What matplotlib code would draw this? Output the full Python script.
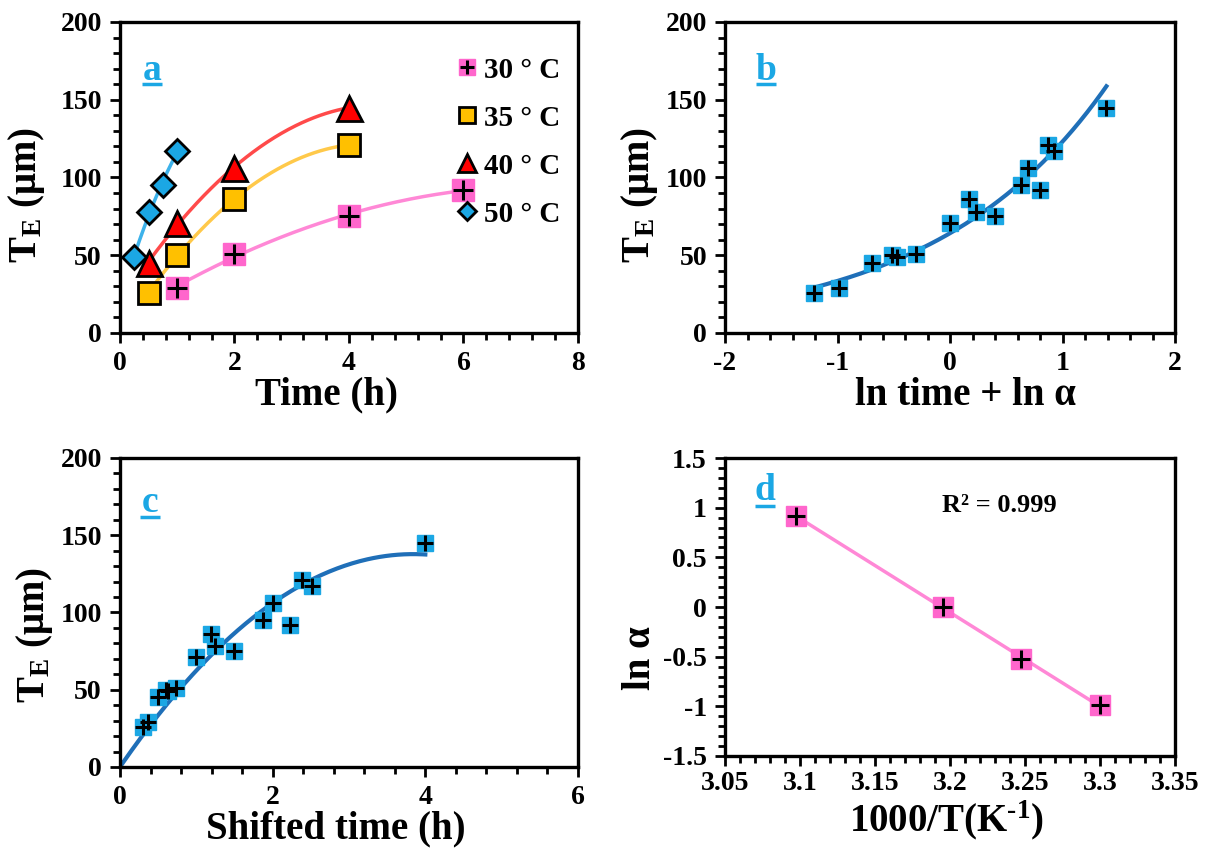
# -*- coding: utf-8 -*-
"""
Four panel T_E growth figure (a-d)
"""

import numpy as np
import matplotlib
matplotlib.use("Agg")
import matplotlib.pyplot as plt
from matplotlib.ticker import MultipleLocator, FuncFormatter
from matplotlib.legend_handler import HandlerTuple

plt.rcParams['font.family'] = ['Liberation Serif', 'DejaVu Serif']
plt.rcParams['font.weight'] = 'bold'
plt.rcParams['axes.unicode_minus'] = False
plt.rcParams['mathtext.fontset'] = 'custom'
plt.rcParams['mathtext.rm'] = 'Liberation Serif:bold'
plt.rcParams['mathtext.it'] = 'Liberation Serif:italic:bold'
plt.rcParams['mathtext.bf'] = 'Liberation Serif:bold'

# ---- data -------------------------------------------------------------
# panel a : time (h) vs T_E (um) per temperature
t30 = [1, 2, 4, 6]
te30 = [29, 51, 75, 92]
t35 = [0.5, 1, 2, 4]
te35 = [26, 50, 86, 121]
t40 = [0.5, 1, 2, 4]
te40 = [45, 71, 106, 145]
t50 = [0.25, 0.5, 0.75, 1]
te50 = [49, 78, 95, 117]

# panel b : ln time + ln alpha
lnx_b = [-0.99, -0.30, 0.40, 0.80,
         -1.21, -0.52, 0.17, 0.87,
         -0.69, 0.00, 0.69, 1.39,
         -0.47, 0.23, 0.63, 0.92]
# panel c : shifted time (h)
shift_c = [0.37, 0.74, 1.49, 2.23,
           0.30, 0.60, 1.19, 2.38,
           0.50, 1.00, 2.00, 4.00,
           0.63, 1.25, 1.88, 2.51]
te_all = te30 + te35 + te40 + te50

# panel d : 1000/T vs ln alpha
invT = [3.097, 3.195, 3.247, 3.300]
ln_alpha = [0.92, 0.00, -0.52, -0.99]

# colours
pink = '#ff66cc'
pink_line = '#ff88d6'
orange = '#ffc000'
orange_line = '#ffc94a'
red = '#ff0000'
red_line = '#ff4a4a'
cyan = '#1ba7e4'
cyan_line = '#3db2ea'
dark_blue = '#1f6fb8'

fig = plt.figure(figsize=(12.13, 8.52), dpi=100)
axA = fig.add_axes([0.0989, 0.6092, 0.3776, 0.365])
axB = fig.add_axes([0.5977, 0.6092, 0.3710, 0.365])
axC = fig.add_axes([0.0989, 0.0998, 0.3776, 0.3627])
axD = fig.add_axes([0.5977, 0.1127, 0.3710, 0.3497])

fmt = FuncFormatter(lambda v, p: '%g' % round(v, 4))


def style_axes(ax, xlim, ylim, xmaj, ymaj):
    ax.set_xlim(*xlim)
    ax.set_ylim(*ylim)
    ax.xaxis.set_major_locator(MultipleLocator(xmaj))
    ax.xaxis.set_minor_locator(MultipleLocator(xmaj / 5.0))
    ax.yaxis.set_major_locator(MultipleLocator(ymaj))
    ax.yaxis.set_minor_locator(MultipleLocator(ymaj / 5.0))
    ax.xaxis.set_major_formatter(fmt)
    ax.yaxis.set_major_formatter(fmt)
    for s in ax.spines.values():
        s.set_linewidth(2.4)
    ax.tick_params(which='major', direction='out', length=7, width=2,
                   labelsize=20, pad=6)
    ax.tick_params(which='minor', direction='out', length=5, width=2)
    for lab in ax.get_xticklabels() + ax.get_yticklabels():
        lab.set_fontweight('bold')


def set_labels(ax, xl, yl, xpos, ypos):
    ax.set_xlabel(xl, fontsize=28, fontweight='bold', va='center')
    ax.set_ylabel(yl, fontsize=28, fontweight='bold', va='center')
    ax.xaxis.set_label_coords(*xpos)
    ax.yaxis.set_label_coords(*ypos)


def panel_letter(ax, letter, x, y, yline):
    ax.text(x, y, letter, transform=ax.transAxes, color=cyan,
            fontsize=27, fontweight='bold', ha='center', va='baseline')
    ax.plot([x - 0.022, x + 0.022], [yline, yline],
            transform=ax.transAxes, color=cyan, lw=2.5,
            solid_capstyle='butt')


def poly_curve(ax, x, y, deg, x0, x1, color, lw=2.5):
    c = np.polyfit(x, y, deg)
    xs = np.linspace(x0, x1, 200)
    ax.plot(xs, np.polyval(c, xs), color=color, lw=lw, zorder=2)


# ---- panel a ----------------------------------------------------------
poly_curve(axA, t30, te30, 2, min(t30), max(t30), pink_line)
poly_curve(axA, t35, te35, 2, min(t35), max(t35), orange_line)
poly_curve(axA, t40, te40, 2, min(t40), max(t40), red_line)
poly_curve(axA, t50, te50, 2, min(t50), max(t50), cyan_line)

h30s, = axA.plot(t30, te30, 's', ms=16, mfc=pink, mec=pink, zorder=3)
h30p, = axA.plot(t30, te30, '+', ms=14, mew=2.2, color='black', zorder=4)
h35, = axA.plot(t35, te35, 's', ms=16, mfc=orange, mec='black', mew=2, zorder=3)
h40, = axA.plot(t40, te40, '^', ms=18, mfc=red, mec='black', mew=2, zorder=3)
h50, = axA.plot(t50, te50, 'D', ms=12.5, mfc=cyan, mec='black', mew=2, zorder=3)

style_axes(axA, (0, 8), (0, 200), 2, 50)
set_labels(axA, 'Time (h)', r'T$_\mathregular{E}$ (μm)', (0.45, -0.2), (-0.203, 0.444))
leg = axA.legend([(h30s, h30p), h35, h40, h50],
                 ['30 ° C', '35 ° C', '40 ° C', '50 ° C'],
                 handler_map={tuple: HandlerTuple(ndivide=1)},
                 loc='upper right', bbox_to_anchor=(1.0, 0.945),
                 frameon=False, fontsize=21, labelspacing=0.72,
                 handlelength=0.8, handletextpad=0.2, markerscale=0.75,
                 borderaxespad=0.2)
for txt in leg.get_texts():
    txt.set_fontweight('bold')
panel_letter(axA, 'a', 0.07, 0.815, 0.80)

# ---- panel b ----------------------------------------------------------
cb = np.polyfit(lnx_b, np.log(te_all), 1)
xb = np.linspace(min(lnx_b), max(lnx_b), 200)
axB.plot(xb, np.exp(np.polyval(cb, xb)), color=dark_blue, lw=3, zorder=2)
axB.plot(lnx_b, te_all, 's', ms=12, mfc=cyan, mec=cyan, zorder=3)
axB.plot(lnx_b, te_all, '+', ms=11, mew=2.2, color='black', zorder=4)
style_axes(axB, (-2, 2), (0, 200), 1, 50)
set_labels(axB, 'ln time + ln α', r'T$_\mathregular{E}$ (μm)', (0.535, -0.2), (-0.189, 0.444))
panel_letter(axB, 'b', 0.091, 0.815, 0.80)

# ---- panel c ----------------------------------------------------------
# quadratic trend forced through the origin
sc = np.array(shift_c)
A = np.vstack([sc ** 2, sc]).T
qc = np.linalg.lstsq(A, np.array(te_all, dtype=float), rcond=None)[0]
xc = np.linspace(0.03, sc.max(), 200)
axC.plot(xc, qc[0] * xc ** 2 + qc[1] * xc, color=dark_blue, lw=3, zorder=2)
axC.plot(shift_c, te_all, 's', ms=12, mfc=cyan, mec=cyan, zorder=3)
axC.plot(shift_c, te_all, '+', ms=11, mew=2.2, color='black', zorder=4)
style_axes(axC, (0, 6), (0, 200), 2, 50)
set_labels(axC, 'Shifted time (h)', r'T$_\mathregular{E}$ (μm)', (0.472, -0.2), (-0.186, 0.427))
panel_letter(axC, 'c', 0.066, 0.825, 0.809)

# ---- panel d ----------------------------------------------------------
cd = np.polyfit(invT, ln_alpha, 1)
xd = np.linspace(min(invT), max(invT), 50)
axD.plot(xd, np.polyval(cd, xd), color=pink_line, lw=2.5, zorder=2)
axD.plot(invT, ln_alpha, 's', ms=14, mfc=pink, mec=pink, zorder=3)
axD.plot(invT, ln_alpha, '+', ms=13, mew=2.2, color='black', zorder=4)
style_axes(axD, (3.05, 3.35), (-1.5, 1.5), 0.05, 0.5)
axD.tick_params(axis='x', which='major', pad=4)
set_labels(axD, '1000/T(K$^{\\mathregular{\u2010}1}$)', 'ln α', (0.493, -0.215), (-0.188, 0.33))
axD.text(3.233, 1.02, 'R² = 0.999', fontsize=19, fontweight='bold',
         ha='center', va='center')
panel_letter(axD, 'd', 0.089, 0.858, 0.838)

fig.savefig('out.png', dpi=100)
